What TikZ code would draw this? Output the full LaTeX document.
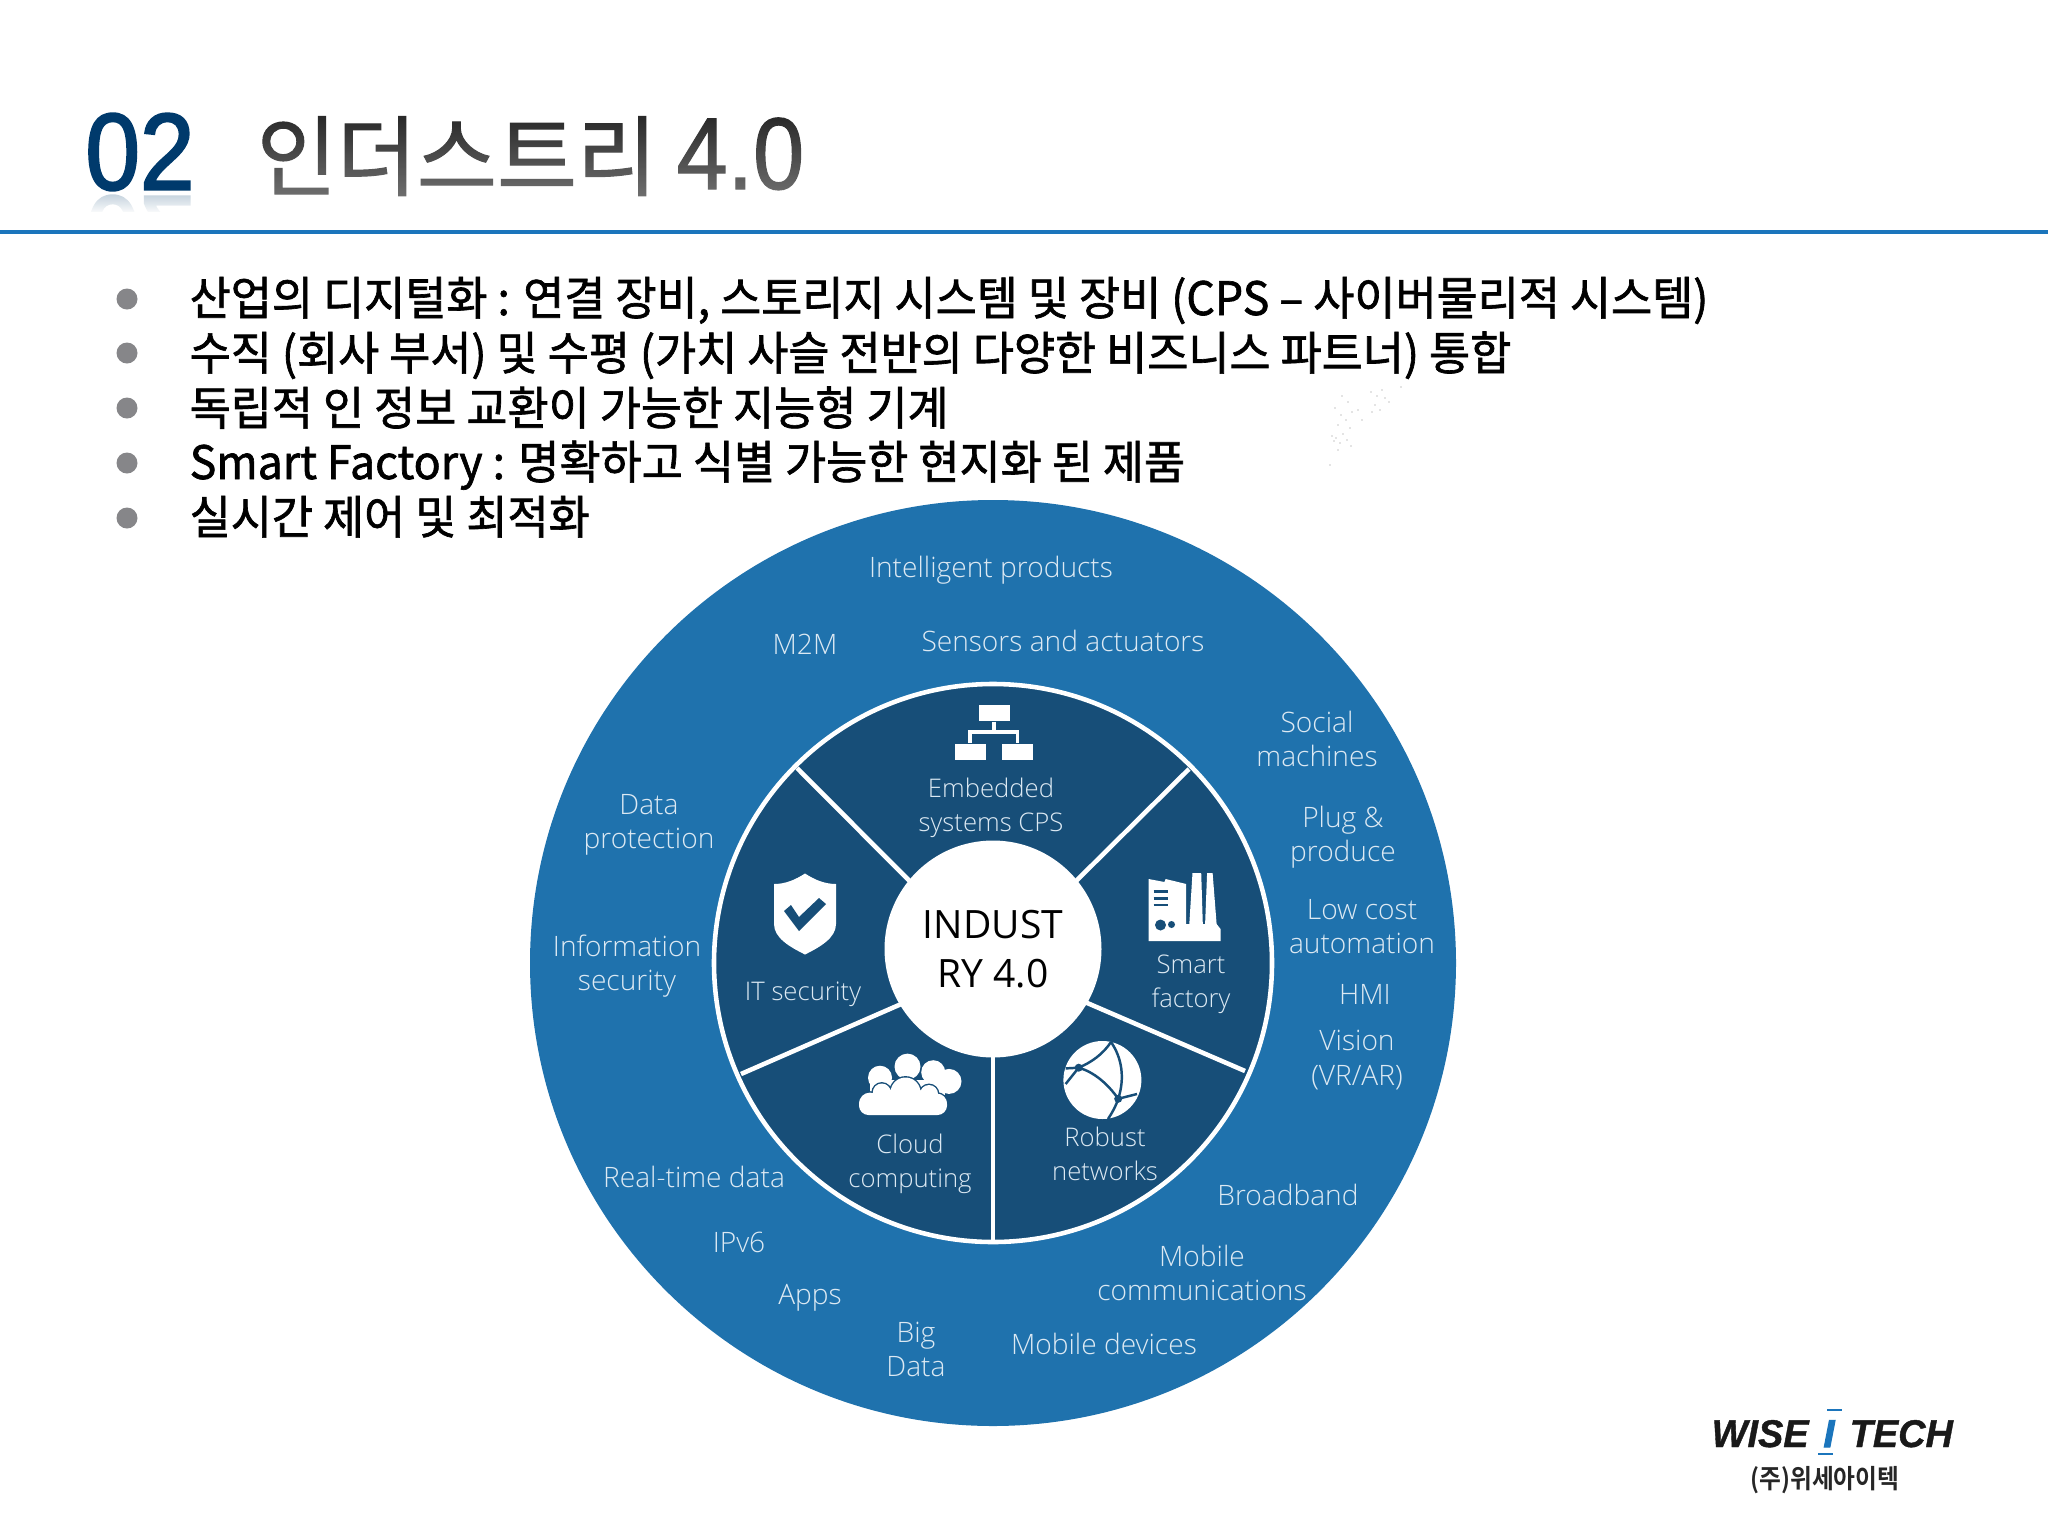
\documentclass[tikz,border=0pt]{standalone}
\usepackage{fontspec}
\setmainfont{Open Sans}
\newfontfamily\wheelfont{Open Sans Light}
\newfontfamily\krfont[FakeStretch=0.97,FakeBold=1.4]{Noto Sans CJK KR}
\newfontfamily\titlefont[FakeStretch=0.99,FakeBold=1.2]{Noto Sans CJK KR}
\newfontfamily\titlenum[FakeStretch=0.9,FakeBold=1.2]{Liberation Sans}
\newfontfamily\numfont[FakeStretch=0.9,FakeBold=2]{Liberation Sans}
\newfontfamily\logofont[FakeStretch=0.98,FakeBold=1]{Liberation Sans Bold Italic}
\newfontfamily\logoi[FakeBold=3]{Liberation Sans Bold Italic}
\newfontfamily\logokr[FakeStretch=0.9]{Noto Sans CJK KR Bold}
\usetikzlibrary{positioning}
\usetikzlibrary{fadings}
\definecolor{ringblue}{HTML}{1F72AD}
\definecolor{sectorblue}{HTML}{174E78}
\definecolor{ruleblue}{HTML}{1B75BC}
\definecolor{numblue}{HTML}{003A6C}
\definecolor{wheeltext}{HTML}{DCE9F3}
\definecolor{bulletgray}{HTML}{868689}
\tikzset{
	wheellabel/.style={text=wheeltext, align=center, font=\wheelfont\fontsize{8pt}{9.7pt}\selectfont, inner sep=0pt},
	innerlabel/.style={text=wheeltext, align=center, font=\wheelfont\fontsize{7.3pt}{9.7pt}\selectfont, inner sep=0pt},
	bulletdot/.style={circle, fill=bulletgray, inner sep=0pt, minimum size=21*0.01cm},
	bullettext/.style={anchor=base west, inner sep=0pt, font=\krfont\fontsize{13.1pt}{15pt}\selectfont},
	spoke/.style={white, line width=1.3pt},
	iconline/.style={white, line width=0.9pt},
	darkline/.style={sectorblue, line width=0.7pt}
}

\begin{document}
\begin{tikzpicture}[x=0.01cm, y=-0.01cm]
	\useasboundingbox (0,0) rectangle (2048,1536);

	%Title
	\node[font=\numfont\fontsize{31pt}{31pt}\selectfont, text=numblue!25, yscale=-1, transform shape, inner sep=0pt] (numshadow) at (140,234){02};
	\fill[white, path fading=north] (70,192) rectangle (210,214);
	\fill[white] (70,212) rectangle (210,290);
	\node[font=\numfont\fontsize{31pt}{31pt}\selectfont, text=numblue, inner sep=0pt] (num) at (140,152){02};
	\node[anchor=base west, font=\titlefont\fontsize{25pt}{25pt}\selectfont, text=black!85, inner sep=0pt] (title) at (256,189){인더스트리 {\titlenum\fontsize{29pt}{29pt}\selectfont 4.0}};
	\fill[white, path fading=north, fill opacity=0.35] (250,112) rectangle (810,200);
	\draw[ruleblue, line width=1.1pt] (0,232) -- (2048,232);

	%Bullet list
	\node[bulletdot] (dot1) at (127,299){};
	\node[bulletdot] (dot2) at (127,353){};
	\node[bulletdot] (dot3) at (127,408){};
	\node[bulletdot] (dot4) at (127,463){};
	\node[bulletdot] (dot5) at (127,518){};
	\node[bullettext] (line1) at (189,315){산업의 디지털화 : 연결 장비, 스토리지 시스템 및 장비 (CPS – 사이버물리적 시스템)};
	\node[bullettext] (line2) at (189,370){수직 (회사 부서) 및 수평 (가치 사슬 전반의 다양한 비즈니스 파트너) 통합};
	\node[bullettext] (line3) at (189,425){독립적 인 정보 교환이 가능한 지능형 기계};
	\node[bullettext] (line4) at (189,479){Smart Factory : 명확하고 식별 가능한 현지화 된 제품};
	\node[bullettext] (line5) at (189,534){실시간 제어 및 최적화};

	%Specks
	\fill[black!45] (1342,396) circle (0.7) (1348,402) circle (0.7) (1335,408) circle (0.7) (1352,412) circle (0.7) (1341,415) circle (0.7)
		(1358,410) circle (0.7) (1346,420) circle (0.7) (1338,425) circle (0.7) (1350,428) circle (0.7) (1343,434) circle (0.7)
		(1336,438) circle (0.7) (1334,441) circle (0.7) (1340,443) circle (0.7) (1347,440) circle (0.7) (1332,436) circle (0.7)
		(1338,450) circle (0.7) (1351,446) circle (0.7) (1371,392) circle (0.7) (1377,396) circle (0.7) (1382,390) circle (0.7)
		(1385,398) circle (0.7) (1375,405) circle (0.7) (1380,410) circle (0.7) (1389,402) circle (0.7) (1372,412) circle (0.7)
		(1401,387) circle (0.7) (1330,465) circle (0.7) (1362,420) circle (0.7);

	%Wheel
	\node[draw=none, fill=ringblue, circle, inner sep=0pt, minimum size=926*0.01cm] (outer) at (993,963){};
	\node[draw=white, line width=1.3pt, fill=sectorblue, circle, inner sep=0pt, minimum size=558*0.01cm] (sectors) at (993,963){};
	\coordinate (spokeA) at (797,768);
	\coordinate (spokeB) at (1189,769);
	\coordinate (spokeC) at (1245,1071);
	\coordinate (spokeD) at (993,1241);
	\coordinate (spokeE) at (741,1074);
	\coordinate (startA) at (918.5,890);
	\coordinate (startB) at (1066,891);
	\coordinate (startC) at (1071,996);
	\coordinate (startD) at (993,1040);
	\coordinate (startE) at (915,998);
	\coordinate (hub) at (993,949);
	\draw[spoke] (startA) -- (spokeA);
	\draw[spoke] (startB) -- (spokeB);
	\draw[spoke] (startC) -- (spokeC);
	\draw[spoke] (startD) -- (spokeD);
	\draw[spoke] (startE) -- (spokeE);
	\node[fill=white, circle, inner sep=0pt, minimum size=217*0.01cm, align=center, text=black, font=\fontsize{11.1pt}{14pt}\selectfont] (center) at (hub){INDUST\\RY 4.0};

	%Outer labels
	\node[wheellabel] (products) at (991,570){Intelligent products};
	\node[wheellabel] (mtom) at (805,644){M2M};
	\node[wheellabel] (sensors) at (1063,641){Sensors and actuators};
	\node[wheellabel] (social) at (1317,739){Social\\machines};
	\node[wheellabel] (plug) at (1343,837){Plug \&\\produce};
	\node[wheellabel] (lowcost) at (1362,927){Low cost\\automation};
	\node[wheellabel] (hmi) at (1365,994){HMI};
	\node[wheellabel] (vision) at (1357,1060){Vision\\(VR/AR)};
	\node[wheellabel] (broadband) at (1288,1195){Broadband};
	\node[wheellabel] (mobilecom) at (1202,1273){Mobile\\communications};
	\node[wheellabel] (devices) at (1104,1344){Mobile devices};
	\node[wheellabel] (bigdata) at (916,1349){Big\\Data};
	\node[wheellabel] (apps) at (810,1298){Apps};
	\node[wheellabel] (ipv) at (739,1242){IPv6};
	\node[wheellabel] (realtime) at (694,1177){Real-time data};
	\node[wheellabel] (infosec) at (627,966){Information\\security};
	\node[wheellabel] (dataprot) at (649,825){Data\\protection};

	%Inner labels
	\node[innerlabel] (embedded) at (991,808){Embedded\\systems CPS};
	\node[innerlabel] (smart) at (1191,984){Smart\\factory};
	\node[innerlabel] (robust) at (1105,1154){Robust\\networks};
	\node[innerlabel] (cloud) at (910,1164){Cloud\\computing};
	\node[innerlabel] (itsec) at (803,994){IT security};

	%Org chart icon
	\node[fill=white, inner sep=0pt, minimum width=31*0.01cm, minimum height=16*0.01cm] (orgtop) at (994,713){};
	\node[fill=white, inner sep=0pt, minimum width=31*0.01cm, minimum height=16*0.01cm] (orgleft) at (970,751.5){};
	\node[fill=white, inner sep=0pt, minimum width=31*0.01cm, minimum height=16*0.01cm] (orgright) at (1017.5,751.5){};
	\draw[iconline] (orgtop.south) -- ++(0,11);
	\draw[iconline] (orgleft.north) |- (orgright.north |- 0,732) -- (orgright.north);

	%Shield icon
	\fill[white] (805,873.5) .. controls (795,880) and (785,884) .. (774,884) -- (774,924)
		.. controls (774,938) and (790,947) .. (805,954.5) .. controls (820,947) and (836,938) .. (836,924)
		-- (836,884) .. controls (825,884) and (815,880) .. (805,873.5) -- cycle;
	\fill[sectorblue] (784,911) -- (799,931) -- (826,904) -- (819,898) -- (799,917) -- (791,905) -- cycle;

	%Factory icon
	\fill[white] (1148.6,879) -- (1164.4,882) -- (1165.6,879) -- (1186.2,884) -- (1186.2,924) -- (1189.3,924) -- (1192.5,873)
		-- (1201.2,873) -- (1202.8,924) -- (1205.1,924) -- (1207.1,873) -- (1212.6,873) -- (1216.6,924) -- (1220.5,929)
		-- (1220.5,941) -- (1148.6,941) -- cycle;
	\draw[darkline] (1153.7,891.6) -- (1167.6,891.6);
	\draw[darkline] (1153.7,898.3) -- (1167.6,898.3);
	\draw[darkline] (1153.7,905) -- (1167.6,905);
	\fill[sectorblue] (1160.5,925) circle (5.5);
	\fill[sectorblue] (1171.5,924.5) circle (3.5);

	%Globe icon
	\fill[white] (1102.4,1080) circle (39);
	\draw[darkline] (1065.6,1068.4) -- (1078.7,1067.7) .. controls (1092,1062) and (1103,1054) .. (1111,1042);
	\draw[darkline] (1078.7,1067.7) -- (1065.6,1084);
	\draw[darkline] (1078.7,1067.7) .. controls (1094,1072) and (1108,1084) .. (1118.2,1098.8);
	\draw[darkline] (1111,1042) .. controls (1122,1058) and (1125,1078) .. (1118.2,1098.8);
	\draw[darkline] (1118.2,1098.8) .. controls (1116,1106) and (1112,1113) .. (1108,1119);
	\draw[darkline] (1118.2,1098.8) -- (1137,1094);
	\fill[sectorblue] (1078.7,1067.7) circle (4);
	\fill[sectorblue] (1118.2,1098.8) circle (4);

	%Cloud icon
	\fill[white] (880,1077.7) circle (12) (907.5,1066.6) circle (13) (933.2,1072.2) circle (12) (949,1081.4) circle (12.5);
	\fill[white] (870,1080) rectangle (945,1095);
	\draw[sectorblue, line width=0.8pt] (905.5,1092.5) circle (15) (881.8,1092.5) circle (9) (929,1094) circle (9) (870,1103.6) circle (11) (937,1103.6) circle (10);
	\fill[white] (905.5,1092.5) circle (15) (881.8,1092.5) circle (9) (929,1094) circle (9) (870,1103.6) circle (11) (937,1103.6) circle (10);
	\fill[white, rounded corners=9.5*0.01cm] (859,1095) rectangle (947,1115);

	%Logo
	\node[anchor=base west, inner sep=0pt, font=\logofont\fontsize{11pt}{11pt}\selectfont, text=black!90] (wise) at (1711,1447){WISE};
	\node[anchor=base west, inner sep=0pt, font=\logofont\fontsize{11pt}{11pt}\selectfont, text=black!90] (tech) at (1849,1447){TECH};
	\node[anchor=base, inner sep=0pt, font=\logoi\fontsize{11pt}{11pt}\selectfont, text=ruleblue] (itext) at (1829,1447){I};
	\draw[ruleblue, line width=0.5pt] (1827,1410) -- (1842,1410);
	\draw[ruleblue, line width=0.5pt] (1818,1454) -- (1833,1454);
	\node[inner sep=0pt, font=\logokr\fontsize{7.5pt}{7.5pt}\selectfont, text=black!85] (company) at (1825,1480){(주)위세아이텍};
\end{tikzpicture}
\end{document}
